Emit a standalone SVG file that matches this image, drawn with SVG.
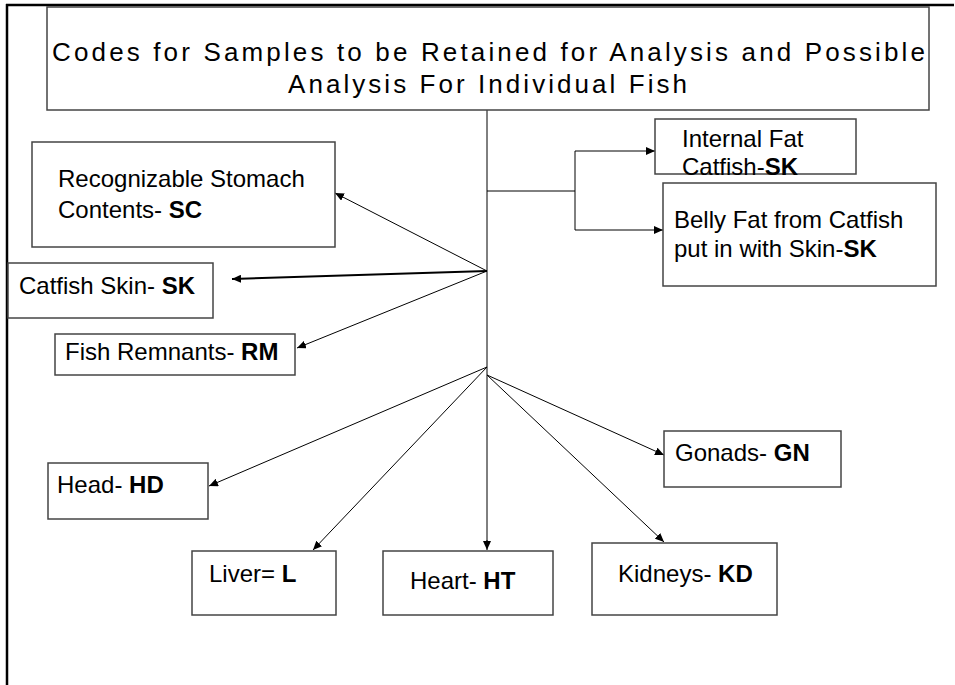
<svg xmlns="http://www.w3.org/2000/svg" width="955" height="685" viewBox="0 0 955 685">
<defs>
<style>
.box{fill:#fff;stroke:#444;stroke-width:1.5}
.t{font-family:"Liberation Sans",Arial,sans-serif;font-size:24px;fill:#000}
.b{font-weight:bold}
.ttl{font-family:"Liberation Sans",Arial,sans-serif;font-size:26px;fill:#000}
.c{fill:none;stroke:#000;stroke-width:1}
.ca{fill:none;stroke:#000;stroke-width:1;marker-end:url(#ah)}
</style>
<marker id="ah" markerUnits="userSpaceOnUse" markerWidth="10" markerHeight="8" refX="9" refY="4" orient="auto">
<path d="M0,0 L9,4 L0,8 Z" fill="#000"/>
</marker>
</defs>
<rect width="955" height="685" fill="#fff"/>
<g id="frame">
<line x1="6" y1="5" x2="954" y2="5" stroke="#000" stroke-width="2.5"/>
<line x1="7" y1="4" x2="7" y2="685" stroke="#000" stroke-width="2.5"/>
</g>
<g id="connectors">
<line class="c" x1="487" y1="110" x2="487" y2="542"/>
<line class="ca" x1="487" y1="540" x2="487" y2="550"/>
<polyline class="c" points="487,191 575,191"/>
<line class="c" x1="575" y1="151" x2="575" y2="230"/>
<line class="ca" x1="575" y1="151" x2="655" y2="151"/>
<line class="ca" x1="575" y1="230" x2="663" y2="230"/>
<line class="ca" x1="487" y1="271" x2="335" y2="193"/>
<line class="ca" x1="487" y1="271" x2="232" y2="279" style="stroke-width:2"/>
<line class="ca" x1="487" y1="271" x2="297" y2="348"/>
<line class="ca" x1="487" y1="367" x2="209" y2="486"/>
<line class="ca" x1="487" y1="367" x2="313" y2="550"/>
<line class="ca" x1="487" y1="375" x2="664" y2="542"/>
<line class="ca" x1="487" y1="375" x2="664" y2="455"/>
</g>
<g id="title">
<rect class="box" x="47" y="7" width="882" height="103"/>
<text class="ttl" x="52" y="61" textLength="873" lengthAdjust="spacing">Codes for Samples to be Retained for Analysis and Possible</text>
<text class="ttl" x="288" y="93" textLength="399" lengthAdjust="spacing">Analysis For Individual Fish</text>
</g>
<g id="node-sc">
<rect class="box" x="32" y="142" width="303" height="105"/>
<text class="t" x="58" y="187">Recognizable Stomach</text>
<text class="t" x="58" y="218">Contents- <tspan class="b">SC</tspan></text>
</g>
<g id="node-sk">
<rect class="box" x="8" y="263" width="205" height="55"/>
<text class="t" x="19" y="294">Catfish Skin- <tspan class="b">SK</tspan></text>
</g>
<g id="node-rm">
<rect class="box" x="55" y="334" width="240" height="41"/>
<text class="t" x="65" y="360">Fish Remnants- <tspan class="b">RM</tspan></text>
</g>
<g id="node-internal-fat">
<rect class="box" x="655" y="119" width="201" height="55"/>
<text class="t" x="682" y="147">Internal Fat</text>
<text class="t" x="682" y="175">Catfish-<tspan class="b">SK</tspan></text>
</g>
<g id="node-belly-fat">
<rect class="box" x="663" y="183" width="273" height="103"/>
<text class="t" x="674" y="228">Belly Fat from Catfish</text>
<text class="t" x="674" y="257">put in with Skin-<tspan class="b">SK</tspan></text>
</g>
<g id="node-head">
<rect class="box" x="48" y="463" width="160" height="56"/>
<text class="t" x="57" y="493">Head- <tspan class="b">HD</tspan></text>
</g>
<g id="node-liver">
<rect class="box" x="192" y="551" width="144" height="64"/>
<text class="t" x="209" y="582">Liver= <tspan class="b">L</tspan></text>
</g>
<g id="node-heart">
<rect class="box" x="383" y="551" width="170" height="64"/>
<text class="t" x="410" y="589">Heart- <tspan class="b">HT</tspan></text>
</g>
<g id="node-kidneys">
<rect class="box" x="592" y="543" width="185" height="72"/>
<text class="t" x="618" y="582">Kidneys- <tspan class="b">KD</tspan></text>
</g>
<g id="node-gonads">
<rect class="box" x="664" y="431" width="177" height="56"/>
<text class="t" x="675" y="461">Gonads- <tspan class="b">GN</tspan></text>
</g>
</svg>
